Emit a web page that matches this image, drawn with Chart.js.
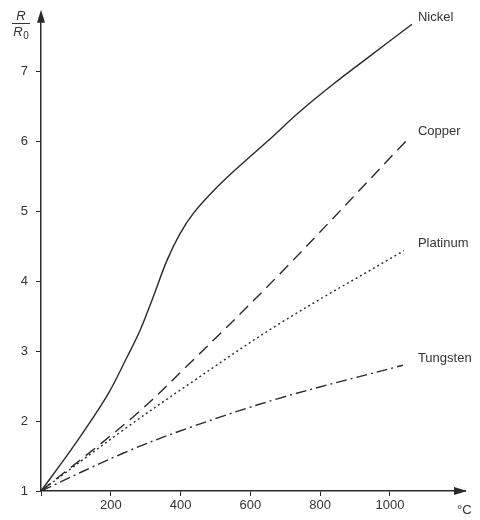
<!DOCTYPE html>
<html>
<head>
<meta charset="utf-8">
<script src="https://cdn.jsdelivr.net/npm/chart.js@4/dist/chart.umd.min.js"></script>
<style>
  html, body { margin: 0; padding: 0; background: #fff; }
  #wrap { width: 480px; height: 520px; }
</style>
</head>
<body>
<div id="wrap"><canvas id="metals" width="480" height="520"></canvas></div>
<script>
// temperature (°C) and R/R0
var nickelT   = [0, 92, 189, 246, 284, 321, 361, 398, 436, 493, 560, 648, 742, 837, 934, 1063];
var nickelR   = [1, 1.63, 2.36, 2.91, 3.3, 3.77, 4.3, 4.68, 4.97, 5.29, 5.61, 6.0, 6.43, 6.82, 7.19, 7.68];
var copperT   = [0, 264, 427, 685, 1054];
var copperR   = [1, 2.06, 2.83, 4.11, 6.05];
var platinumT = [0, 235, 427, 685, 1040];
var platinumR = [1, 1.87, 2.54, 3.4, 4.44];
var tungstenT = [0, 235, 427, 685, 1037];
var tungstenR = [1, 1.54, 1.91, 2.33, 2.8];

var metalNames = ['Nickel', 'Copper', 'Platinum', 'Tungsten'];
var xTicks = [0, 200, 400, 600, 800, 1000];
var yTicks = [1, 2, 3, 4, 5, 6, 7];

function pts(t, r) {
    return t.map(function (v, i) { return { x: v, y: r[i] }; });
}

var ink = '#2a2a2a';

var axisDecor = {
    id: 'axisDecor',
    afterDraw: function (chart) {
        var c = chart.ctx;
        var a = chart.chartArea;
        c.save();
        c.fillStyle = ink;
        // y axis runs a little past the plot top, then the arrow heads
        var tip = a.top - 6;
        c.fillRect(a.left - 0.75, tip + 4, 1.5, a.top - tip);
        c.beginPath();
        c.moveTo(a.left, tip);
        c.lineTo(a.left - 4, tip + 13);
        c.lineTo(a.left + 4, tip + 13);
        c.closePath();
        c.fill();
        c.beginPath();
        c.moveTo(a.right + 2, a.bottom);
        c.lineTo(a.right - 11, a.bottom - 4);
        c.lineTo(a.right - 11, a.bottom + 4);
        c.closePath();
        c.fill();

        // series names, in a column right of the line ends
        c.fillStyle = '#333';
        c.font = '13px "Liberation Sans", Arial, sans-serif';
        c.textBaseline = 'middle';
        c.textAlign = 'left';
        var labelX = chart.scales.x.getPixelForValue(1080);
        chart.data.datasets.forEach(function (ds, i) {
            var last = ds.data[ds.data.length - 1];
            var py = chart.scales.y.getPixelForValue(last.y);
            c.fillText(metalNames[i], labelX, py - 7);
        });

        // unit on x
        c.fillText('°C', a.right - 8, a.bottom + 19);

        // R / R0 on y
        c.font = 'italic 13px "Liberation Sans", Arial, sans-serif';
        c.textAlign = 'center';
        c.fillText('R', 21, 16);
        c.fillRect(12, 23, 18, 1);
        c.fillText('R', 18, 32);
        c.font = '10px "Liberation Sans", Arial, sans-serif';
        c.fillText('0', 26, 36);
        c.restore();
    }
};

var ctx = document.getElementById('metals');
var metalChart = new Chart(ctx, {
    type: 'scatter',
    data: {
        datasets: [{
            label: metalNames[0],
            data: pts(nickelT, nickelR),
            borderColor: ink,
            borderDash: []
        }, {
            label: metalNames[1],
            data: pts(copperT, copperR),
            borderColor: ink,
            borderDash: [12, 7]
        }, {
            label: metalNames[2],
            data: pts(platinumT, platinumR),
            borderColor: ink,
            borderDash: [2, 3]
        }, {
            label: metalNames[3],
            data: pts(tungstenT, tungstenR),
            borderColor: ink,
            borderDash: [11, 4, 2, 4]
        }]
    },
    options: {
        responsive: false,
        animation: false,
        layout: { padding: { top: 6, right: 15, left: 0, bottom: 0 } },
        datasets: {
            scatter: {
                showLine: true,
                pointRadius: 0,
                borderWidth: 1.4,
                tension: 0.35
            }
        },
        plugins: {
            legend: { display: false },
            tooltip: { enabled: false },
            colors: { enabled: false }
        },
        scales: {
            x: {
                type: 'linear',
                min: 0,
                max: 1215,
                afterBuildTicks: function (s) {
                    s.ticks = xTicks.map(function (v) { return { value: v }; });
                },
                afterFit: function (s) { s.height = 29; },
                ticks: {
                    color: '#333',
                    font: { size: 13, family: '"Liberation Sans", Arial, sans-serif' },
                    padding: 2,
                    callback: function (v) { return v === 0 ? '' : v; }
                },
                grid: { drawOnChartArea: false, drawTicks: true, tickLength: 5, color: ink },
                border: { display: true, color: ink, width: 1.5 }
            },
            y: {
                type: 'linear',
                min: 1,
                max: 7.8,
                afterBuildTicks: function (s) {
                    s.ticks = yTicks.map(function (v) { return { value: v }; });
                },
                afterFit: function (s) { s.width = 41; },
                ticks: {
                    color: '#333',
                    font: { size: 13, family: '"Liberation Sans", Arial, sans-serif' },
                    padding: 8
                },
                grid: { drawOnChartArea: false, drawTicks: true, tickLength: 5, color: ink },
                border: { display: true, color: ink, width: 1.5 }
            }
        }
    },
    plugins: [axisDecor]
});
</script>
</body>
</html>
